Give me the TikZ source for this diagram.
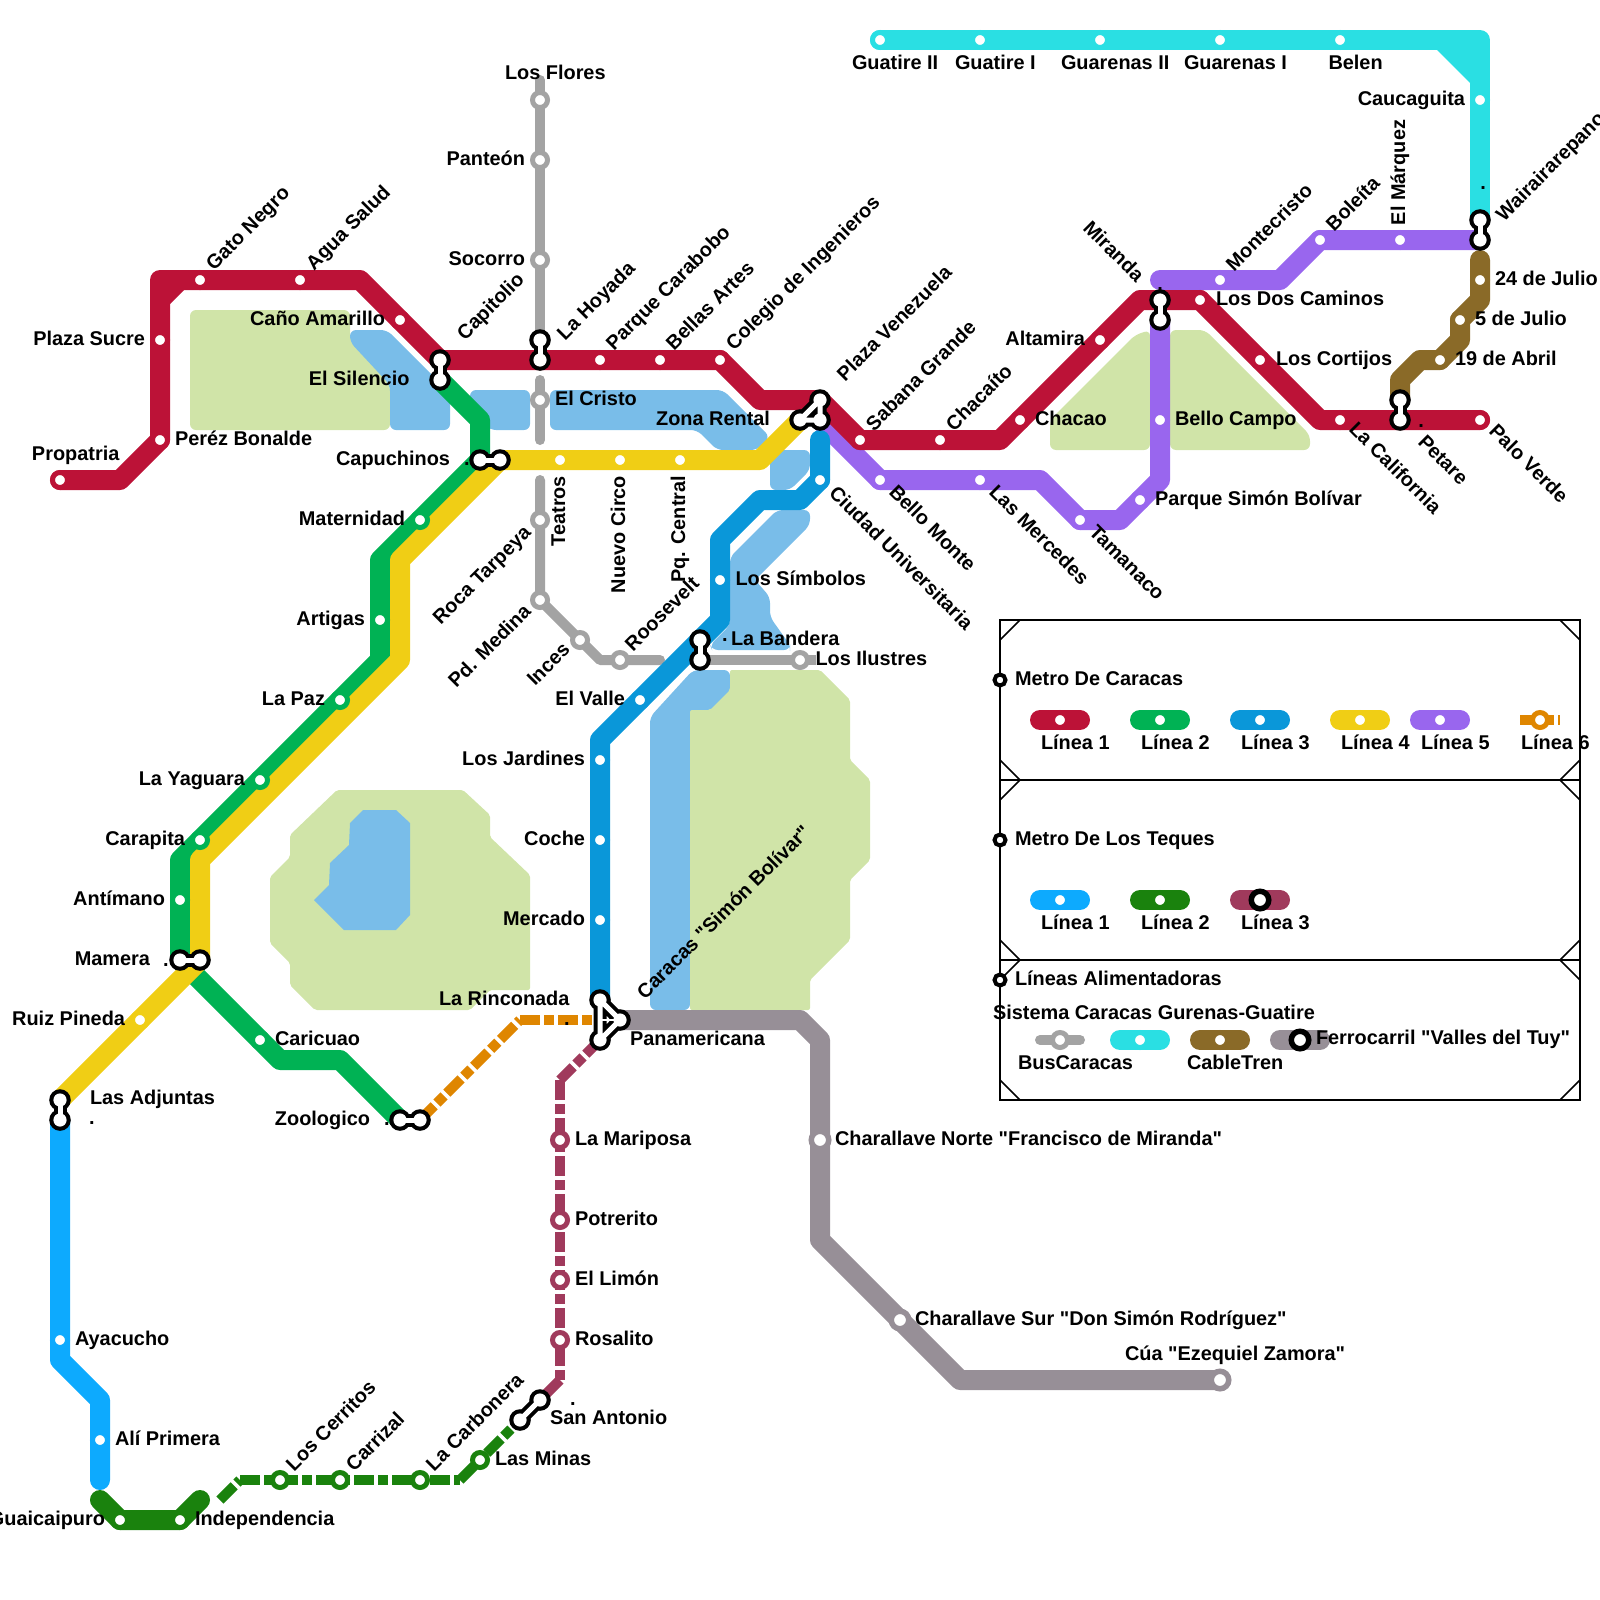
\documentclass[tikz,border=0pt]{standalone}
\usepackage{fontspec}
\setmainfont{Liberation Sans}[Ligatures=TeXOff]
\pgfdeclarelayer{parks}
\pgfdeclarelayer{lines}
\pgfsetlayers{parks,lines,main}
\definecolor{cA}{HTML}{BC1237}
\definecolor{cB}{HTML}{00B254}
\definecolor{cC}{HTML}{0A97D9}
\definecolor{cD}{HTML}{F0CE15}
\definecolor{cE}{HTML}{9966EE}
\definecolor{cF}{HTML}{DF8600}
\definecolor{cG}{HTML}{0DAAFE}
\definecolor{cH}{HTML}{1A820D}
\definecolor{cI}{HTML}{A03A5C}
\definecolor{cJ}{HTML}{A3A3A3}
\definecolor{cK}{HTML}{2ADFE3}
\definecolor{cL}{HTML}{8A6A28}
\definecolor{cM}{HTML}{978F97}
\definecolor{park}{HTML}{D0E4A8}
\definecolor{water}{HTML}{79BDE9}
\tikzset{
 st/.style={circle,inner sep=0pt,outer sep=0pt,minimum size=7.5pt,line width=2.5pt,draw=#1,fill=white},
 stbig/.style={circle,inner sep=0pt,outer sep=0pt,minimum size=8.75pt,line width=2.75pt,draw=#1,fill=white},
 jn/.style={circle,inner sep=0pt,outer sep=0pt,minimum size=0pt},
 ln/.style={line width=10pt,line cap=round,line join=round,draw=#1},
 thin line/.style={line width=5pt,line cap=round,line join=round,draw=#1},
 dsh/.style={line width=5pt,line cap=butt,draw=#1,dash pattern=on 10pt off 2pt on 5pt off 2pt},
 lbl/.style={inner sep=0pt,outer sep=0pt,font=\fontsize{9.95}{12}\selectfont\bfseries,text=black},
 tw/.style={lbl,anchor=base west},
 te/.style={lbl,anchor=base east},
 uw/.style={lbl,anchor=base west,rotate=45},
 ue/.style={lbl,anchor=base east,rotate=45},
 dw/.style={lbl,anchor=base west,rotate=-45},
 de/.style={lbl,anchor=base east,rotate=-45},
 vw/.style={lbl,anchor=base west,rotate=90},
 ve/.style={lbl,anchor=base east,rotate=90},
 pk/.style={fill=park,rounded corners=3pt},
 pkb/.style={fill=park,rounded corners=1pt},
 wt/.style={fill=water,rounded corners=3pt},
 lgbox/.style={draw=black,line width=1pt},
 lgring/.style={circle,inner sep=0pt,outer sep=0pt,minimum size=5.5pt,line width=2pt,draw=black,fill=white},
 bigring/.style={circle,inner sep=0pt,outer sep=0pt,minimum size=8.75pt,line width=2.75pt,draw=black,fill=white},
}
\newcommand{\twin}[2]{%
 \fill[black] (#1) circle (5.4pt) (#2) circle (5.4pt);
 \draw[black,line width=6.5pt] (#1)--(#2);
 \fill[white] (#1) circle (3.3pt) (#2) circle (3.3pt);
 \draw[white,line width=2.5pt] (#1)--(#2);}
\newcommand{\triple}[3]{%
 \fill[black] (#1) circle (5.4pt) (#2) circle (5.4pt) (#3) circle (5.4pt);
 \draw[black,line width=6.5pt] (#1)--(#2) (#2)--(#3) (#3)--(#1);
 \fill[white] (#1) circle (3.3pt) (#2) circle (3.3pt) (#3) circle (3.3pt);
 \draw[white,line width=2.5pt] (#1)--(#2) (#2)--(#3) (#3)--(#1);}
\begin{document}
\begin{tikzpicture}[x=0.5pt,y=-0.5pt]
\useasboundingbox (0,0) rectangle (1600,1600);
% ---------- parks and water
\begin{pgfonlayer}{parks}
\fill[pk] (190,310)--(350,310)--(350,340)--(390,385)--(390,430)--(190,430)--cycle;
\fill[wt] (350,330)--(387,330)--(450,393)--(450,430)--(390,430)--(390,385)--(350,342)--cycle;
\fill[wt] (470,390)--(530,390)--(530,430)--(490,430)--(470,410)--cycle;
\fill[wt] (550,390)--(723,390)--(770,437)--(757,450)--(717,450)--(697,430)--(550,430)--cycle;
\fill[wt] (770,450)--(810,450)--(810,470)--(790,490)--(770,490)--cycle;
\fill[wt] (777,510)--(810,510)--(810,525)--(755,580)--(770,597)--(770,617)--(790,645)--(790,650)--(712,650)--(710,645)--(730,625)--(730,557)--cycle;
\fill[wt] (693,670)--(730,670)--(730,697)--(713,710)--(690,710)--(690,1010)--(650,1010)--(650,717)--cycle;
\fill[pkb] (730,670)--(820,670)--(850,700)--(850,760)--(870,780)--(870,860)--(850,880)--(850,940)--(810,980)--(810,1010)--(690,1010)--(690,710)--(710,710)--(730,690)--cycle;
\fill[pkb] (337,790)--(463,790)--(490,815)--(490,837)--(530,875)--(530,990)--(490,990)--(470,1010)--(315,1010)--(290,985)--(290,963)--(270,943)--(270,877)--(290,857)--(290,835)--cycle;
\fill[water] (363,810)--(396,810)--(410,823)--(410,915)--(396,930)--(344,930)--(314,900)--(329,885)--(330,863)--(349,845)--(350,823)--cycle;
\fill[pk] (1050,420)--(1135,335)--(1150,330)--(1150,450)--(1050,450)--cycle;
\fill[pk] (1170,330)--(1205,330)--(1310,435)--(1310,450)--(1170,450)--cycle;
\end{pgfonlayer}
% ---------- stations
\node[st=cA] (propatria) at (60,480) {};
\node[st=cA] (perez) at (160,440) {};
\node[st=cA] (sucre) at (160,340) {};
\node[st=cA] (gato) at (200,280) {};
\node[st=cA] (agua) at (300,280) {};
\node[st=cA] (cano) at (400,320) {};
\node[st=cA] (carabobo) at (600,360) {};
\node[st=cA] (bellas) at (660,360) {};
\node[st=cA] (colegio) at (720,360) {};
\node[st=cA] (sabana) at (860,440) {};
\node[st=cA] (chacaito) at (940,440) {};
\node[st=cA] (chacao) at (1020,420) {};
\node[st=cA] (altamira) at (1100,340) {};
\node[st=cA] (doscaminos) at (1200,300) {};
\node[st=cA] (cortijos) at (1260,360) {};
\node[st=cA] (california) at (1340,420) {};
\node[st=cA] (paloverde) at (1480,420) {};
\node[st=cB] (maternidad) at (420,520) {};
\node[st=cB] (artigas) at (380,620) {};
\node[st=cB] (lapaz) at (340,700) {};
\node[st=cB] (yaguara) at (260,780) {};
\node[st=cB] (carapita) at (200,840) {};
\node[st=cB] (antimano) at (180,900) {};
\node[st=cB] (caricuao) at (260,1040) {};
\node[st=cC] (simbolos) at (720,580) {};
\node[st=cC] (ciudad) at (820,480) {};
\node[st=cC] (elvalle) at (640,700) {};
\node[st=cC] (jardines) at (600,760) {};
\node[st=cC] (coche) at (600,840) {};
\node[st=cC] (mercado) at (600,920) {};
\node[st=cD] (teatros) at (560,460) {};
\node[st=cD] (nuevocirco) at (620,460) {};
\node[st=cD] (pqcentral) at (680,460) {};
\node[st=cD] (ruiz) at (140,1020) {};
\node[st=cE] (bellomonte) at (880,480) {};
\node[st=cE] (mercedes) at (980,480) {};
\node[st=cE] (tamanaco) at (1080,520) {};
\node[st=cE] (psb) at (1140,500) {};
\node[st=cE] (bellocampo) at (1160,420) {};
\node[st=cE] (montecristo) at (1220,280) {};
\node[st=cE] (boleita) at (1320,240) {};
\node[st=cE] (marquez) at (1400,240) {};
\node[st=cG] (ayacucho) at (60,1340) {};
\node[st=cG] (aliprimera) at (100,1440) {};
\node[st=cH] (guaicaipuro) at (120,1520) {};
\node[st=cH] (independencia) at (180,1520) {};
\node[st=cH] (cerritos) at (280,1480) {};
\node[st=cH] (carrizal) at (340,1480) {};
\node[st=cH] (carbonera) at (420,1480) {};
\node[st=cH] (minas) at (480,1460) {};
\node[st=cI] (mariposa) at (560,1140) {};
\node[st=cI] (potrerito) at (560,1220) {};
\node[st=cI] (limon) at (560,1280) {};
\node[st=cI] (rosalito) at (560,1340) {};
\node[st=cJ] (flores) at (540,100) {};
\node[st=cJ] (panteon) at (540,160) {};
\node[st=cJ] (socorro) at (540,260) {};
\node[st=cJ] (cristo) at (540,400) {};
\node[st=cJ] (roca) at (540,520) {};
\node[st=cJ] (medina) at (540,600) {};
\node[st=cJ] (inces) at (580,640) {};
\node[st=cJ] (roosevelt) at (620,660) {};
\node[st=cJ] (ilustres) at (800,660) {};
\node[st=cK] (guatireII) at (880,40) {};
\node[st=cK] (guatireI) at (980,40) {};
\node[st=cK] (guarenasII) at (1100,40) {};
\node[st=cK] (guarenasI) at (1220,40) {};
\node[st=cK] (belen) at (1340,40) {};
\node[st=cK] (caucaguita) at (1480,100) {};
\node[st=cL] (julio24) at (1480,280) {};
\node[st=cL] (julio5) at (1460,320) {};
\node[st=cL] (abril19) at (1440,360) {};
\node[stbig=cM] (norte) at (820,1140) {};
\node[stbig=cM] (sur) at (900,1320) {};
\node[stbig=cM] (cua) at (1220,1380) {};
% ---------- interchange points
\node[jn] (capA) at (440,360) {};
\node[jn] (capB) at (440,380) {};
\node[jn] (hoyA) at (540,340) {};
\node[jn] (hoyB) at (540,360) {};
\node[jn] (pvA) at (820,400) {};
\node[jn] (pvB) at (800,420) {};
\node[jn] (pvC) at (820,420) {};
\node[jn] (capuA) at (480,460) {};
\node[jn] (capuB) at (500,460) {};
\node[jn] (mamA) at (180,960) {};
\node[jn] (mamB) at (200,960) {};
\node[jn] (adjA) at (60,1100) {};
\node[jn] (adjB) at (60,1120) {};
\node[jn] (banA) at (700,640) {};
\node[jn] (banB) at (700,660) {};
\node[jn] (zooA) at (400,1120) {};
\node[jn] (zooB) at (420,1120) {};
\node[jn] (rinA) at (600,1000) {};
\node[jn] (rinB) at (620,1020) {};
\node[jn] (rinC) at (600,1040) {};
\node[jn] (rinM) at (600,1020) {};
\node[jn] (sanA) at (540,1400) {};
\node[jn] (sanB) at (520,1420) {};
\node[jn] (mirA) at (1160,300) {};
\node[jn] (mirB) at (1160,320) {};
\node[jn] (petA) at (1400,400) {};
\node[jn] (petB) at (1400,420) {};
\node[jn] (warA) at (1480,220) {};
\node[jn] (warB) at (1480,240) {};
% ---------- lines
\begin{pgfonlayer}{lines}
\draw[thin line=cJ] (540,80) -- (flores.center) -- (panteon.center) -- (socorro.center) -- (hoyA.center);
\draw[thin line=cJ] (540,380) -- (cristo.center) -- (540,440);
\draw[thin line=cJ] (540,480) -- (roca.center) -- (medina.center) -- (inces.center) -- (600,660) -- (roosevelt.center) -- (660,660);
\draw[line width=5pt,draw=cJ] (banB.center) -- (ilustres.center) -- (816,660);
\draw[ln=cE] (pvC.center) -- (bellomonte.center) -- (mercedes.center) -- (1040,480) -- (tamanaco.center) -- (1120,520) -- (1160,480) -- (bellocampo.center) -- (mirB.center);
\draw[ln=cE] (1160,280) -- (montecristo.center) -- (1280,280) -- (boleita.center) -- (marquez.center) -- (warB.center);
\draw[ln=cB] (capB.center) -- (480,420) -- (capuA.center) -- (maternidad.center) -- (380,560) -- (artigas.center) -- (380,660) -- (lapaz.center) -- (yaguara.center) -- (carapita.center) -- (180,860) -- (antimano.center) -- (mamA.center) -- (caricuao.center) -- (280,1060) -- (340,1060) -- (zooA.center);
\draw[ln=cD] (pvB.center) -- (760,460) -- (pqcentral.center) -- (nuevocirco.center) -- (teatros.center) -- (capuB.center) -- (400,560) -- (400,660) -- (200,860) -- (mamB.center) -- (ruiz.center) -- (adjA.center);
\draw[ln=cC] (rinA.center) -- (mercado.center) -- (coche.center) -- (jardines.center) -- (600,740) -- (elvalle.center) -- (banA.center) -- (720,620) -- (simbolos.center) -- (720,540) -- (760,500) -- (800,500) -- (ciudad.center) -- (820,440);
\draw[ln=cA] (propatria.center) -- (120,480) -- (perez.center) -- (sucre.center) -- (160,280) -- (gato.center) -- (agua.center) -- (360,280) -- (capA.center) -- (hoyB.center) -- (carabobo.center) -- (bellas.center) -- (colegio.center) -- (760,400) -- (pvA.center) -- (sabana.center) -- (chacaito.center) -- (1000,440) -- (altamira.center) -- (1140,300) -- (doscaminos.center) -- (1320,420) -- (california.center) -- (petB.center) -- (paloverde.center);
\fill[cA] (170,290) -- (170,304) -- (184,290) -- cycle;
\draw[ln=cK] (guatireII.center) -- (belen.center) -- (1480,40) -- (caucaguita.center) -- (warA.center);
\fill[cK] (1470,50) -- (1437,50) -- (1470,83) -- cycle;
\draw[ln=cL] (1480,260) -- (julio24.center) -- (1480,300) -- (julio5.center) -- (1460,340) -- (abril19.center) -- (1420,360) -- (1400,380) -- (petA.center);
\draw[ln=cM] (rinB.center) -- (800,1020) -- (820,1040) -- (norte.center) -- (820,1240) -- (sur.center) -- (960,1380) -- (cua.center);
\draw[dsh=cF] (zooB.center) -- (520,1020);
\draw[dsh=cF] (520,1020) -- (rinM.center);
\draw[dsh=cI] (rinC.center) -- (560,1080);
\draw[dsh=cI] (560,1080) -- (560,1380);
\draw[dsh=cI] (560,1380) -- (sanA.center);
\draw[ln=cG] (adjB.center) -- (ayacucho.center) -- (60,1360) -- (100,1400) -- (aliprimera.center) -- (100,1480);
\draw[ln=cH] (100,1500) -- (guaicaipuro.center) -- (independencia.center) -- (200,1500);
\draw[dsh=cH] (220,1500) -- (240,1480);
\draw[dsh=cH] (240,1480) -- (460,1480);
\draw[dsh=cH] (460,1480) -- (sanB.center);
\end{pgfonlayer}
% ---------- interchanges
\twin{capA}{capB}
\twin{hoyA}{hoyB}
\triple{pvA}{pvB}{pvC}
\twin{capuA}{capuB}
\twin{mamA}{mamB}
\twin{adjA}{adjB}
\twin{banA}{banB}
\twin{zooA}{zooB}
\triple{rinA}{rinB}{rinC}
\draw[white,line width=1.2pt] (rinB.center) -- (rinM.center);
\twin{sanA}{sanB}
\twin{mirA}{mirB}
\twin{petA}{petB}
\twin{warA}{warB}
% ---------- labels
\node[tw] (tPropatria) at (32,460) {Propatria};
\node[tw] (tPerez) at (175,445) {Peréz Bonalde};
\node[te] (tSucre) at (145,345) {Plaza Sucre};
\node[uw] (tGato) at (214,271) {Gato Negro};
\node[uw] (tAgua) at (314,271) {Agua Salud};
\node[te] (tCano) at (385,325) {Caño Amarillo};
\node[te] (tSilencio) at (409.5,385) {El Silencio};
\node[uw] (tCapitolio) at (465,341) {Capitolio};
\node[uw] (tHoyada) at (565,341) {La Hoyada};
\node[uw] (tCarabobo) at (614,351) {Parque Carabobo};
\node[uw] (tBellas) at (674,351) {Bellas Artes};
\node[uw] (tColegio) at (734,351) {Colegio de Ingenieros};
\node[uw] (tPlazaV) at (845,382) {Plaza Venezuela};
\node[uw] (tSabana) at (874,432) {Sabana Grande};
\node[uw] (tChacaito) at (954,432) {Chacaíto};
\node[tw] (tChacao) at (1035,425) {Chacao};
\node[te] (tAltamira) at (1085,345) {Altamira};
\node[de] (tMiranda) at (1136,283) {Miranda};
\node[uw] (tMontecristo) at (1234,272) {Montecristo};
\node[uw] (tBoleita) at (1334,232) {Boleíta};
\node[vw] (tMarquez) at (1405,225) {El Márquez};
\node[uw] (tWaraira) at (1504,222) {Wairairarepano};
\node[tw] (tDos) at (1216,305) {Los Dos Caminos};
\node[tw] (tCortijos) at (1276,365) {Los Cortijos};
\node[dw] (tCalifornia) at (1348,430) {La California};
\node[dw] (tPetare) at (1417,443) {Petare};
\node[dw] (tPalo) at (1488,432) {Palo Verde};
\node[tw] (tJ24) at (1495,285) {24 de Julio};
\node[tw] (tJ5) at (1475,325) {5 de Julio};
\node[tw] (tA19) at (1455,365) {19 de Abril};
\node[tw] (tGII) at (852,70) {Guatire II};
\node[tw] (tGI) at (955,70) {Guatire I};
\node[tw] (tGnII) at (1061,70) {Guarenas II};
\node[tw] (tGnI) at (1184,70) {Guarenas I};
\node[tw] (tBelen) at (1328.5,70) {Belen};
\node[te] (tCauc) at (1465,105) {Caucaguita};
\node[te] (tCapuchinos) at (450,465) {Capuchinos};
\node[te] (tMaternidad) at (405,525) {Maternidad};
\node[te] (tArtigas) at (365,625) {Artigas};
\node[te] (tLaPaz) at (325,705) {La Paz};
\node[te] (tYaguara) at (245,785) {La Yaguara};
\node[te] (tCarapita) at (185,845) {Carapita};
\node[te] (tAntimano) at (165,905) {Antímano};
\node[te] (tMamera) at (150,965) {Mamera};
\node[te] (tRuiz) at (125,1025) {Ruiz Pineda};
\node[tw] (tAdjuntas) at (90,1104) {Las Adjuntas};
\node[tw] (tCaricuao) at (275,1045) {Caricuao};
\node[te] (tZoo) at (370,1125) {Zoologico};
\node[tw] (tFlores) at (505,80) {Los Flores};
\node[te] (tPanteon) at (525,165) {Panteón};
\node[te] (tSocorro) at (525,265) {Socorro};
\node[tw] (tCristo) at (555,405) {El Cristo};
\node[te] (tZona) at (770,425) {Zona Rental};
\node[ve] (tTeatros) at (565,476) {Teatros};
\node[ve] (tNuevo) at (625,476) {Nuevo Circo};
\node[ve] (tPq) at (685,476) {Pq. Central};
\node[ue] (tRoca) at (532,534) {Roca Tarpeya};
\node[ue] (tMedina) at (532,613) {Pd. Medina};
\node[ue] (tInces) at (571,651) {Inces};
\node[uw] (tRoosevelt) at (633,652) {Roosevelt};
\node[tw] (tSimbolos) at (735.5,585) {Los Símbolos};
\node[tw] (tBandera) at (731,645) {La Bandera};
\node[tw] (tIlustres) at (815.5,665) {Los Ilustres};
\node[te] (tValle) at (625,705) {El Valle};
\node[te] (tJardines) at (585,765) {Los Jardines};
\node[te] (tCoche) at (585,845) {Coche};
\node[te] (tMercado) at (585,925) {Mercado};
\node[tw] (tRinconada) at (439,1005) {La Rinconada};
\node[tw] (tPanam) at (630,1045) {Panamericana};
\node[uw] (tCaracasP) at (645,1000) {Caracas "Simón Bolívar"};
\node[dw] (tCiudad) at (828,494) {Ciudad Universitaria};
\node[dw] (tBelloM) at (888,493) {Bello Monte};
\node[dw] (tMercedes) at (988,493) {Las Mercedes};
\node[dw] (tTamanaco) at (1088,533) {Tamanaco};
\node[tw] (tPSB) at (1155,505) {Parque Simón Bolívar};
\node[tw] (tBelloC) at (1175,425) {Bello Campo};
\node[tw] (tMariposa) at (575,1145) {La Mariposa};
\node[tw] (tPotrerito) at (575,1225) {Potrerito};
\node[tw] (tLimon) at (575,1285) {El Limón};
\node[tw] (tRosalito) at (575,1345) {Rosalito};
\node[tw] (tSan) at (550,1424) {San Antonio};
\node[tw] (tMinas) at (495,1465) {Las Minas};
\node[uw] (tCarbonera) at (434,1472) {La Carbonera};
\node[uw] (tCarrizal) at (354,1472) {Carrizal};
\node[uw] (tCerritos) at (294,1472) {Los Cerritos};
\node[te] (tGuai) at (105,1525) {Guaicaipuro};
\node[tw] (tInd) at (195,1525) {Independencia};
\node[tw] (tAya) at (75,1345) {Ayacucho};
\node[tw] (tAli) at (115,1445) {Alí Primera};
\node[tw] (tNorte) at (835,1145) {Charallave Norte "Francisco de Miranda"};
\node[tw] (tSur) at (915,1325) {Charallave Sur "Don Simón Rodríguez"};
\node[tw] (tCua) at (1125,1360) {Cúa "Ezequiel Zamora"};
% stray full stops of the reference
\node[lbl,anchor=base] (d1) at (467,465) {.};
\node[lbl,anchor=base] (d2) at (166,966) {.};
\node[lbl,anchor=base] (d3) at (92,1124) {.};
\node[lbl,anchor=base] (d4) at (725,641) {.};
\node[lbl,anchor=base] (d5) at (1483,189) {.};
\node[lbl,anchor=base] (d6) at (1421,427) {.};
\node[lbl,anchor=base] (d7) at (1160,290) {.};
\node[lbl,anchor=base] (d8) at (573,1405) {.};
\node[lbl,anchor=base] (d9) at (567,1025) {.};
\node[lbl,anchor=base] (d10) at (387,1125) {.};
% ---------- legend
\foreach \ya/\yb in {620/780,780/960,960/1100}{
 \draw[lgbox] (1000,\ya) rectangle (1580,\yb);
 \draw[line width=0.8pt] (1000,\ya+20) -- (1020,\ya) (1560,\ya) -- (1580,\ya+20) (1000,\yb-20) -- (1020,\yb) (1560,\yb) -- (1580,\yb-20);
}
\node[lgring] (hA) at (1000,680) {};
\node[lgring] (hB) at (1000,840) {};
\node[lgring] (hC) at (1000,980) {};
\node[tw] (hAt) at (1015,685) {Metro De Caracas};
\node[tw] (hBt) at (1015,845) {Metro De Los Teques};
\node[tw] (hCt) at (1015,985) {Líneas Alimentadoras};
\node[tw] (hDt) at (993,1019) {Sistema Caracas Gurenas-Guatire};
\draw[ln=cA] (1040,720) -- (1080,720);
\draw[ln=cB] (1140,720) -- (1180,720);
\draw[ln=cC] (1240,720) -- (1280,720);
\draw[ln=cD] (1340,720) -- (1380,720);
\draw[ln=cE] (1420,720) -- (1460,720);
\draw[dsh=cF] (1520,720) -- (1560,720);
\node[st=cA] (kA) at (1060,720) {};
\node[st=cB] (kB) at (1160,720) {};
\node[st=cC] (kC) at (1260,720) {};
\node[st=cD] (kD) at (1360,720) {};
\node[st=cE] (kE) at (1440,720) {};
\node[st=cF] (kF) at (1540,720) {};
\node[tw] (kAt) at (1041,749) {Línea 1};
\node[tw] (kBt) at (1141,749) {Línea 2};
\node[tw] (kCt) at (1241,749) {Línea 3};
\node[tw] (kDt) at (1341,749) {Línea 4};
\node[tw] (kEt) at (1421,749) {Línea 5};
\node[tw] (kFt) at (1521,749) {Línea 6};
\draw[ln=cG] (1040,900) -- (1080,900);
\draw[ln=cH] (1140,900) -- (1180,900);
\draw[ln=cI] (1240,900) -- (1280,900);
\node[st=cG] (mA) at (1060,900) {};
\node[st=cH] (mB) at (1160,900) {};
\node[bigring] (mC) at (1260,900) {};
\node[tw] (mAt) at (1041,929) {Línea 1};
\node[tw] (mBt) at (1141,929) {Línea 2};
\node[tw] (mCt) at (1241,929) {Línea 3};
\draw[thin line=cJ] (1040,1040) -- (1080,1040);
\draw[ln=cK] (1120,1040) -- (1160,1040);
\draw[ln=cL] (1200,1040) -- (1240,1040);
\draw[ln=cM] (1280,1040) -- (1320,1040);
\node[st=cJ] (nA) at (1060,1040) {};
\node[st=cK] (nB) at (1140,1040) {};
\node[st=cL] (nC) at (1220,1040) {};
\node[bigring] (nD) at (1300,1040) {};
\node[tw] (nAt) at (1018,1069) {BusCaracas};
\node[tw] (nCt) at (1187,1069) {CableTren};
\node[tw] (nDt) at (1316,1044) {Ferrocarril "Valles del Tuy"};
\end{tikzpicture}
\end{document}
